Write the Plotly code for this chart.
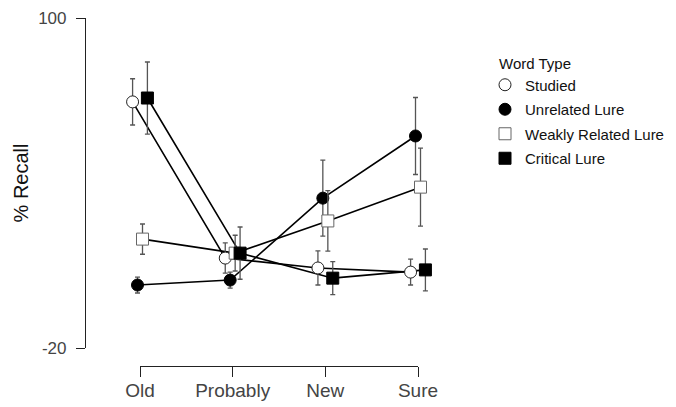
import plotly.graph_objects as go

# Page has an 8px default body margin; the figure is sized and positioned to compensate.
PAGE_W, PAGE_H = 676, 407
OFF = 8
W, H = PAGE_W - OFF, PAGE_H - OFF

categories = ["Old", "Probably", "New", "Sure"]
series_names = ["Studied", "Unrelated Lure", "Weakly Related Lure", "Critical Lure"]

studied = [69.5, 12.7, 9.1, 7.6]
studied_se = [8.4, 5.5, 6.2, 4.7]
unrelated = [2.9, 4.7, 34.5, 57.1]
unrelated_se = [2.9, 2.9, 13.8, 14.0]
weakly = [19.6, 14.5, 26.2, 38.5]
weakly_se = [5.5, 6.5, 11.0, 14.2]
critical = [70.9, 14.5, 5.4, 8.4]
critical_se = [13.1, 9.5, 6.0, 7.6]

y_ticks = [-20, 100]

# page-pixel -> paper fraction helpers
def px_x(p):
    return (p - OFF) / W

def px_y(p):
    return 1 - (p - OFF) / H

# x mapping: category 0 at 140px, category 3 at 418px (page pixels)
x_left_px, x_right_px = 95, 470
cat0_px, cat3_px = 140, 418
unit = (cat3_px - cat0_px) / 3.0
x_range = [-(cat0_px - x_left_px) / unit, 3 + (x_right_px - cat3_px) / unit]

dodge = [-0.08, -0.027, 0.027, 0.08]

values = [studied, unrelated, weakly, critical]
errors = [studied_se, unrelated_se, weakly_se, critical_se]
symbols = ["circle", "circle", "square", "square"]
fills = ["white", "black", "white", "black"]
outlines = ["#222222", "black", "#666666", "black"]

fig = go.Figure()

# connecting lines first
for i, name in enumerate(series_names):
    xs = [k + dodge[i] for k in range(len(categories))]
    fig.add_trace(go.Scatter(
        x=xs, y=values[i], mode="lines",
        line=dict(color="black", width=1.6),
        showlegend=False, hoverinfo="skip", legendgroup=name,
    ))

# markers with error bars
for i, name in enumerate(series_names):
    xs = [k + dodge[i] for k in range(len(categories))]
    fig.add_trace(go.Scatter(
        x=xs, y=values[i], mode="markers", name=name, legendgroup=name,
        marker=dict(symbol=symbols[i], size=12, color=fills[i],
                    line=dict(color=outlines[i], width=1)),
        error_y=dict(type="data", array=errors[i], visible=True,
                     color="#555555", thickness=1.3, width=2.5),
        cliponaxis=False,
    ))

# invisible trace so the category axis (xaxis2) is drawn
fig.add_trace(go.Scatter(
    x=list(range(len(categories))), y=[None] * len(categories),
    xaxis="x2", yaxis="y", mode="markers", showlegend=False, hoverinfo="skip",
))

fig.update_layout(
    width=W, height=H,
    margin=dict(l=0, r=0, t=0, b=0, pad=0),
    paper_bgcolor="white", plot_bgcolor="rgba(0,0,0,0)",
    font=dict(family="Liberation Sans, Arial, sans-serif", color="#444444"),
    showlegend=True,
    legend=dict(
        x=px_x(497), y=px_y(49), xanchor="left", yanchor="top",
        title=dict(text="Word Type", font=dict(size=15, color="#111111")),
        font=dict(size=15, color="#111111"),
        bgcolor="rgba(0,0,0,0)", borderwidth=0, tracegroupgap=2,
        indentation=-12,
    ),
    xaxis=dict(
        domain=[px_x(x_left_px), px_x(x_right_px)],
        range=x_range, visible=False, fixedrange=True,
    ),
    yaxis=dict(
        domain=[px_y(348), px_y(18)],
        range=[-20, 100],
        anchor="free", position=px_x(85),
        showline=True, linecolor="#222222", linewidth=1.2,
        showgrid=False, zeroline=False,
        ticks="outside", ticklen=9, tickwidth=1.2, tickcolor="#222222",
        tickvals=y_ticks, ticktext=[str(v) for v in y_ticks],
        tickfont=dict(size=17, color="#444444"),
        ticklabelstandoff=6,
        title=dict(text="% Recall", font=dict(size=20, color="#111111"), standoff=3),
        automargin=False, fixedrange=True,
    ),
    xaxis2=dict(
        domain=[px_x(cat0_px), px_x(cat3_px)],
        range=[0, 3],
        anchor="free", position=px_y(366),
        showline=True, linecolor="#222222", linewidth=1.2,
        showgrid=False, zeroline=False,
        ticks="outside", ticklen=10, tickwidth=1.2, tickcolor="#222222",
        tickvals=list(range(len(categories))), ticktext=categories,
        tickfont=dict(size=19, color="#444444"),
        ticklabelstandoff=-3,
        automargin=False, fixedrange=True,
    ),
)

fig.write_html("out.html")
